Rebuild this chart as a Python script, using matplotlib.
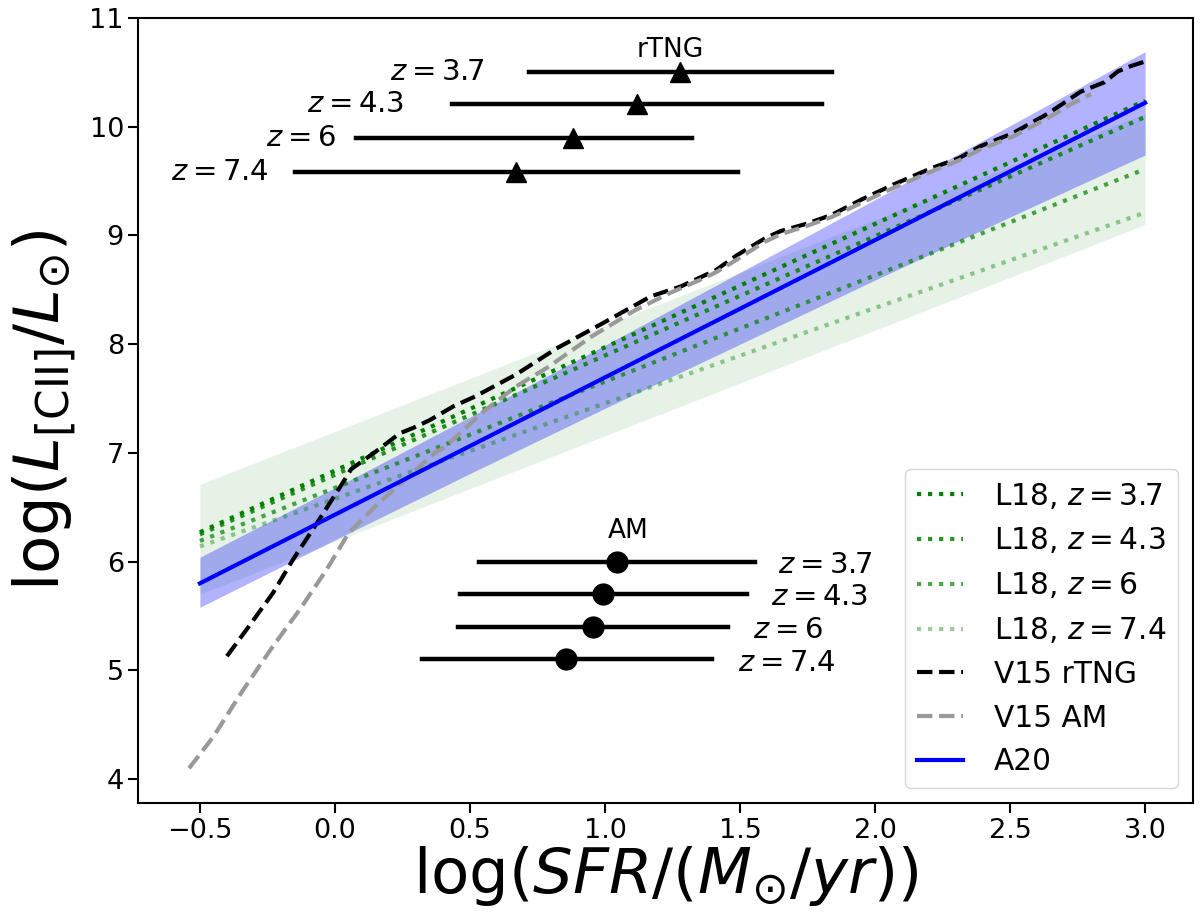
import matplotlib
matplotlib.use('Agg')
import matplotlib.pyplot as plt
import numpy as np

# L18 relations (straight lines, read at the two ends)
l18_x = [-0.5, 3.0]
l18_z = ['3.7', '4.3', '6', '7.4']
l18_y = [[6.27, 10.24],
         [6.25, 10.09],
         [6.19, 9.61],
         [6.14, 9.21]]
l18_alpha = [1.0, 0.85, 0.7, 0.4]
l18_band_lo = [5.70, 9.10]
l18_band_hi = [6.71, 10.12]

# A20 relation and its band
a20_x = [-0.5, 3.0]
a20_y = [5.80, 10.22]
a20_band_x = [-0.5, 0.0, 0.5, 1.0, 1.5, 2.0, 2.5, 3.0]
a20_band_lo = [5.58, 6.20, 6.81, 7.41, 8.00, 8.59, 9.17, 9.74]
a20_band_hi = [6.04, 6.68, 7.33, 7.99, 8.66, 9.33, 10.01, 10.69]

# V15 curves
v15_tng_x = [-0.40, -0.32, -0.23, -0.155, -0.06, 0.02, 0.06, 0.15, 0.24, 0.29, 0.35,
             0.44, 0.52, 0.67, 0.82, 0.99, 1.17, 1.28, 1.41, 1.49, 1.59, 1.65, 1.75,
             1.84, 1.95, 2.07, 2.21, 2.31, 2.39, 2.51, 2.64, 2.76, 2.85, 2.90, 2.95, 3.0]
v15_tng_y = [5.13, 5.40, 5.71, 6.02, 6.38, 6.69, 6.85, 7.01, 7.18, 7.23, 7.30,
             7.43, 7.52, 7.72, 7.96, 8.19, 8.44, 8.53, 8.68, 8.82, 8.97, 9.04, 9.11,
             9.19, 9.33, 9.47, 9.62, 9.71, 9.82, 9.94, 10.12, 10.32, 10.41, 10.51, 10.56, 10.60]
v15_am_x = [-0.54, -0.45, -0.34, -0.23, -0.13, -0.03, 0.05, 0.15, 0.19, 0.28, 0.37,
            0.41, 0.55, 0.67, 0.79, 0.95, 1.11, 1.24, 1.36, 1.41, 1.49, 1.59, 1.65,
            1.75, 1.84, 1.95, 2.07, 2.21, 2.31, 2.39, 2.51, 2.64, 2.72, 2.80]
v15_am_y = [4.10, 4.39, 4.82, 5.22, 5.56, 5.93, 6.26, 6.51, 6.60, 6.80, 7.00,
            7.06, 7.38, 7.61, 7.79, 8.07, 8.31, 8.47, 8.60, 8.66, 8.78, 8.94, 9.01,
            9.09, 9.17, 9.30, 9.44, 9.59, 9.69, 9.79, 9.91, 10.08, 10.20, 10.30]

# mean values with ranges (rTNG and AM)
z_labels = ['3.7', '4.3', '6', '7.4']
rtng_x = [1.277, 1.118, 0.882, 0.672]
rtng_lo = [0.72, 0.435, 0.077, -0.148]
rtng_hi = [1.84, 1.804, 1.321, 1.494]
rtng_y = [10.50, 10.21, 9.90, 9.58]
am_x = [1.044, 0.993, 0.955, 0.856]
am_lo = [0.534, 0.462, 0.455, 0.321]
am_hi = [1.555, 1.524, 1.456, 1.397]
am_y = [6.00, 5.70, 5.40, 5.10]

fig = plt.figure(figsize=(12, 9.13), dpi=100)
ax = fig.add_axes([0.1154, 0.1205, 0.8788, 0.8598])

ax.fill_between(l18_x, l18_band_lo, l18_band_hi, color='green', alpha=0.1, lw=0)
for i in range(len(l18_z)):
    ax.plot(l18_x, l18_y[i], ':', color='green', alpha=l18_alpha[i], lw=3,
            label='L18, $z=' + l18_z[i] + '$')
ax.plot(v15_tng_x, v15_tng_y, '--', color='k', lw=3, label='V15 rTNG')
ax.plot(v15_am_x, v15_am_y, '--', color='0.6', lw=3, label='V15 AM')
ax.fill_between(a20_band_x, a20_band_lo, a20_band_hi, color='blue', alpha=0.3, lw=0)
ax.plot(a20_x, a20_y, '-', color='blue', lw=3, label='A20')

for i in range(len(z_labels)):
    ax.plot([rtng_lo[i], rtng_hi[i]], [rtng_y[i], rtng_y[i]], '-', color='k', lw=3.2)
    ax.plot(rtng_x[i], rtng_y[i], '^', color='k', ms=15)
    ax.plot([am_lo[i], am_hi[i]], [am_y[i], am_y[i]], '-', color='k', lw=3.2)
    ax.plot(am_x[i], am_y[i], 'o', color='k', ms=15)

# labels next to the ranges
rtng_txt_x = [0.553, 0.258, 0.004, -0.244]
for i in range(len(z_labels)):
    ax.text(rtng_txt_x[i], rtng_y[i], '$z=' + z_labels[i] + '$', fontsize=21,
            ha='right', va='center')
am_txt_x = [1.641, 1.616, 1.549, 1.493]
for i in range(len(z_labels)):
    ax.text(am_txt_x[i], am_y[i] - 0.03, '$z=' + z_labels[i] + '$', fontsize=21,
            ha='left', va='center')
ax.text(1.24, 10.71, 'rTNG', fontsize=19, ha='center', va='center')
ax.text(1.087, 6.28, 'AM', fontsize=19, ha='center', va='center')

ax.set_xlim(-0.7275, 3.1775)
ax.set_ylim(3.78, 11)
ax.set_xticks([-0.5, 0.0, 0.5, 1.0, 1.5, 2.0, 2.5, 3.0])
ax.set_yticks([4, 5, 6, 7, 8, 9, 10, 11])
ax.tick_params(labelsize=19.5, length=7, width=1.5)
for s in ax.spines.values():
    s.set_linewidth(1.5)

ax.set_xlabel(r'$\log(SFR/(M_{\odot}/yr))$', fontsize=45, labelpad=0)
ax.set_ylabel(r'$\log(L_{\rm [CII]}/L_{\odot})$', fontsize=45, labelpad=8)
ax.legend(loc='lower right', fontsize=21.3, handlelength=1.55, handletextpad=1.05)

fig.savefig('out.png', dpi=100)
